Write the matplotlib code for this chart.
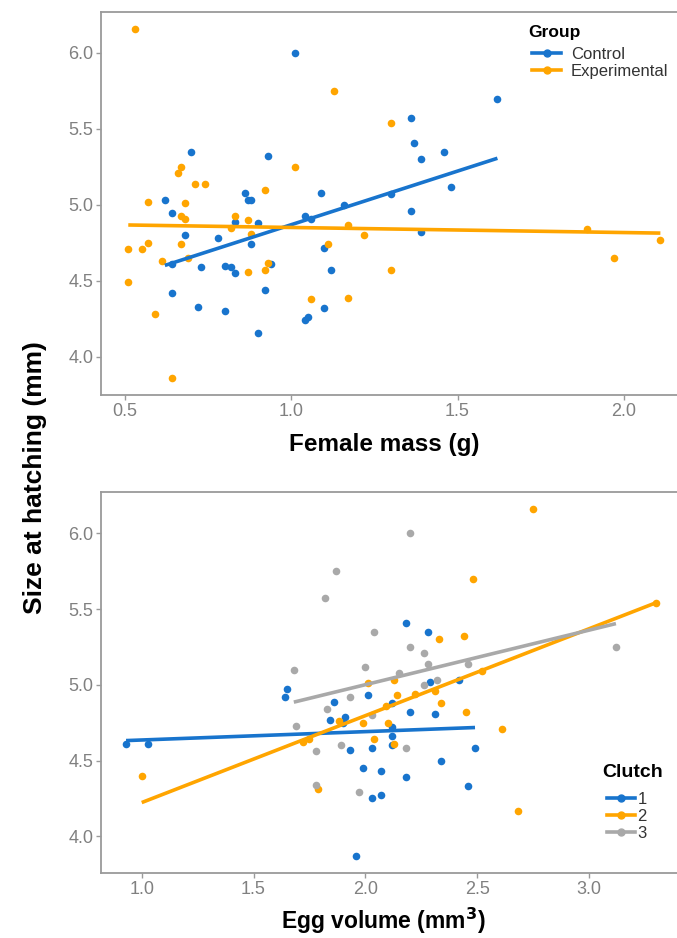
import numpy as np
import matplotlib
matplotlib.use('Agg')
import matplotlib.pyplot as plt
from matplotlib.lines import Line2D
from matplotlib.ticker import FormatStrFormatter

plt.rcParams['font.family'] = ['Liberation Sans', 'DejaVu Sans']

BLUE = '#1874CD'
ORANGE = '#FFA500'
GREY = '#A9A9A9'

# hatchling size vs female mass, by treatment group
ctrl_mass = [1.01, 0.70, 0.93, 0.86, 1.09, 0.87, 0.88, 0.62, 1.16, 1.30, 0.64, 0.83,
             0.90, 0.68, 0.78, 0.88, 0.64, 0.73, 0.80, 0.82, 0.83, 0.94, 1.04, 1.06,
             1.10, 1.12, 0.64, 0.92, 0.72, 0.80, 1.10, 1.04, 1.05, 0.90, 1.62, 1.36,
             1.37, 1.46, 1.39, 1.48, 1.36, 1.39]
ctrl_size = [6.00, 5.35, 5.32, 5.08, 5.08, 5.03, 5.03, 5.03, 5.00, 5.07, 4.95, 4.89,
             4.88, 4.80, 4.78, 4.74, 4.61, 4.59, 4.60, 4.59, 4.55, 4.61, 4.93, 4.91,
             4.72, 4.57, 4.42, 4.44, 4.33, 4.30, 4.32, 4.24, 4.26, 4.16, 5.70, 5.57,
             5.41, 5.35, 5.30, 5.12, 4.96, 4.82]
exp_mass = [0.53, 1.13, 1.30, 0.67, 0.66, 1.01, 0.71, 0.74, 0.92, 0.57, 0.68, 0.67,
            0.68, 0.83, 0.87, 0.82, 0.88, 0.57, 0.51, 0.55, 0.67, 0.61, 0.69, 0.93,
            0.92, 0.87, 1.17, 1.22, 1.11, 1.30, 0.51, 1.06, 1.17, 0.59, 0.64, 1.89,
            1.97, 2.11]
exp_size = [6.16, 5.75, 5.54, 5.25, 5.21, 5.25, 5.14, 5.14, 5.10, 5.02, 5.01, 4.93,
            4.91, 4.93, 4.90, 4.85, 4.81, 4.75, 4.71, 4.71, 4.74, 4.63, 4.65, 4.62,
            4.57, 4.56, 4.87, 4.80, 4.74, 4.57, 4.49, 4.38, 4.39, 4.28, 3.86, 4.84,
            4.65, 4.77]

# hatchling size vs egg volume, by clutch
c1_vol = [0.93, 1.03, 2.18, 2.28, 1.65, 1.64, 2.01, 1.86, 2.12, 1.84, 1.91, 1.90,
          2.12, 2.12, 2.12, 1.93, 2.03, 1.99, 2.07, 2.18, 2.03, 2.07, 1.96, 2.29,
          2.42, 2.20, 2.31, 2.49, 2.34, 2.46]
c1_size = [4.61, 4.61, 5.41, 5.35, 4.97, 4.92, 4.93, 4.89, 4.88, 4.77, 4.79, 4.75,
           4.72, 4.66, 4.60, 4.57, 4.58, 4.45, 4.43, 4.39, 4.25, 4.27, 3.87, 5.02,
           5.03, 4.82, 4.81, 4.58, 4.50, 4.33]
c2_vol = [1.00, 2.75, 2.48, 2.33, 2.44, 2.13, 2.52, 3.30, 2.01, 2.14, 2.09, 1.88,
          1.99, 2.10, 2.13, 2.04, 1.72, 1.75, 1.79, 2.22, 2.31, 2.34, 2.45, 2.61,
          2.68]
c2_size = [4.40, 6.16, 5.70, 5.30, 5.32, 5.03, 5.09, 5.54, 5.01, 4.93, 4.86, 4.76,
           4.75, 4.75, 4.61, 4.64, 4.62, 4.64, 4.31, 4.94, 4.96, 4.88, 4.82, 4.71,
           4.17]
c3_vol = [1.87, 1.82, 2.04, 2.00, 1.68, 2.20, 2.20, 2.26, 2.28, 2.46, 3.12, 2.15,
          2.26, 2.32, 1.93, 1.83, 2.03, 1.69, 1.78, 1.89, 2.18, 1.78, 1.97]
c3_size = [5.75, 5.57, 5.35, 5.12, 5.10, 6.00, 5.25, 5.21, 5.14, 5.14, 5.25, 5.08,
           5.00, 5.03, 4.92, 4.84, 4.80, 4.73, 4.56, 4.60, 4.58, 4.34, 4.29]


def scatter_fit(ax, x, y, color):
    x = np.asarray(x)
    y = np.asarray(y)
    ax.scatter(x, y, s=30, color=color, linewidths=0, zorder=3)
    slope, intercept = np.polyfit(x, y, 1)
    xs = np.array([x.min(), x.max()])
    ax.plot(xs, slope * xs + intercept, color=color, lw=2.6, zorder=4,
            solid_capstyle='butt')


def style_axes(ax):
    for side in ['left', 'top', 'bottom']:
        ax.spines[side].set_color('#9a9a9a')
        ax.spines[side].set_linewidth(1.3)
    ax.spines['right'].set_visible(False)
    ax.tick_params(colors='#9a9a9a', labelcolor='#808080', labelsize=13,
                   length=3.5, width=1.0, pad=2)
    ax.xaxis.set_major_formatter(FormatStrFormatter('%.1f'))
    ax.yaxis.set_major_formatter(FormatStrFormatter('%.1f'))


def key(color):
    return Line2D([0], [0], color=color, lw=2.6, marker='o', markersize=5)


def add_legend(ax, colors, labels, title, title_size, x, y_title, y_mid, textpad):
    # title drawn separately so its gap to the first key can be set freely
    ax.text(x - 0.007, y_title, title, transform=ax.transAxes, fontsize=title_size,
            fontweight='bold', ha='left', va='baseline')
    leg = ax.legend([key(c) for c in colors], labels, loc='center left',
                    bbox_to_anchor=(x, y_mid), frameon=False, fontsize=12,
                    handlelength=1.7, handletextpad=textpad, labelspacing=0.12,
                    borderpad=0, borderaxespad=0)
    for t in leg.get_texts():
        t.set_color('#333333')
    return leg


fig = plt.figure(figsize=(6.77, 9.38), dpi=100)
ax1 = fig.add_axes([0.1492, 0.5789, 0.8508, 0.4078])
ax2 = fig.add_axes([0.1492, 0.0693, 0.8508, 0.4062])

# top: female mass
scatter_fit(ax1, ctrl_mass, ctrl_size, BLUE)
scatter_fit(ax1, exp_mass, exp_size, ORANGE)
ax1.set_xlim(0.428, 2.16)
ax1.set_ylim(3.75, 6.266)
ax1.set_xticks([0.5, 1.0, 1.5, 2.0])
ax1.set_yticks([4.0, 4.5, 5.0, 5.5, 6.0])
style_axes(ax1)
ax1.set_xlabel('Female mass (g)', fontsize=17.5, fontweight='bold')
ax1.xaxis.set_label_coords(0.491, -0.1)
add_legend(ax1, [BLUE, ORANGE], ['Control', 'Experimental'], 'Group', 12.5,
           0.749, 0.937, 0.869, 0.6)

# bottom: egg volume
scatter_fit(ax2, c1_vol, c1_size, BLUE)
scatter_fit(ax2, c2_vol, c2_size, ORANGE)
scatter_fit(ax2, c3_vol, c3_size, GREY)
ax2.set_xlim(0.818, 3.393)
ax2.set_ylim(3.758, 6.273)
ax2.set_xticks([1.0, 1.5, 2.0, 2.5, 3.0])
ax2.set_yticks([4.0, 4.5, 5.0, 5.5, 6.0])
style_axes(ax2)
ax2.set_xlabel('Egg volume (mm$^\\mathbf{3}$)', fontsize=16.5, fontweight='bold')
ax2.xaxis.set_label_coords(0.491, -0.085)
add_legend(ax2, [BLUE, ORANGE, GREY], ['1', '2', '3'], 'Clutch', 14,
           0.878, 0.253, 0.148, 0.15)

fig.text(35 / 677, 1 - 478 / 938, 'Size at hatching (mm)', rotation=90,
         fontsize=19, fontweight='bold', ha='center', va='center')

fig.savefig('out.png', dpi=100)
